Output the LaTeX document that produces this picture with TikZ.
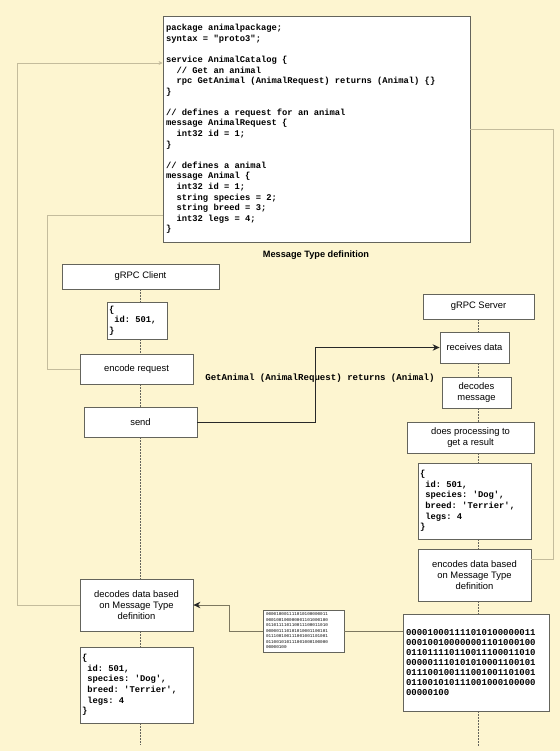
\documentclass[tikz,border=0pt]{standalone}
\usepackage{fontspec}
\setmainfont{Liberation Sans}
\setmonofont{Liberation Mono}
\usepackage{tikz}
\usetikzlibrary{arrows.meta}

\definecolor{paper}{RGB}{253,245,208}
\definecolor{boxline}{RGB}{100,100,92}
\definecolor{linktan}{RGB}{196,188,156}
\definecolor{wireolive}{RGB}{125,120,95}
\definecolor{arrowdark}{RGB}{40,40,40}

\begin{document}
\begin{tikzpicture}[x=1bp,y=-1bp]
        \tikzset{msgbox/.style = {draw=boxline, fill=white, line width=0.8bp, inner sep=2bp, align=center, font=\fontsize{9.4bp}{11bp}\selectfont}}
        \tikzset{codebox/.style = {msgbox, align=left, font=\fontsize{8.8bp}{10.58bp}\selectfont\ttfamily\bfseries,
                                   execute at begin node={\spaceskip=0pt\relax\xspaceskip=0pt\relax}}}
        \tikzset{bitbox/.style = {msgbox, align=left, inner sep=3bp, font=\fontsize{9bp}{10bp}\selectfont\ttfamily\bfseries}}
        \tikzset{lifeline/.style = {draw=boxline, line width=0.7bp, dash pattern=on 1.5bp off 1.5bp}}
        \tikzset{defline/.style = {draw=linktan, line width=0.8bp, > = {Stealth[length=4bp,width=4bp]}}}
        \tikzset{wireline/.style = {draw=wireolive, line width=0.9bp}}
        \tikzset{edge/.style = {->, > = {Stealth[length=7bp,width=6.5bp,color=arrowdark]}}}

        \useasboundingbox (0,0) rectangle (560,751);
        \fill[paper] (0,0) rectangle (560,751);

        % message definition
        \node[codebox, text width=301bp, minimum height=226bp, inner sep=3bp] (proto) at (316.5,129)
            {package animalpackage;\\ syntax = "proto3";\\ ~\\
             service AnimalCatalog \{\\ ~~// Get an animal\\ ~~rpc GetAnimal (AnimalRequest) returns (Animal) \{\}\\ \}\\ ~\\
             // defines a request for an animal\\ message AnimalRequest \{\\ ~~int32 id = 1;\\ \}\\ ~\\
             // defines a animal\\ message Animal \{\\ ~~int32 id = 1;\\ ~~string species = 2;\\
             ~~string breed = 3;\\ ~~int32 legs = 4;\\ \}};
        \node[font=\fontsize{9.2bp}{11bp}\selectfont\bfseries] (mtd) at (316,255) {Message Type definition};

        % client
        \node[msgbox, minimum width=157bp, minimum height=25bp] (client) at (140.5,276.5) {gRPC Client};
        \node[codebox, text width=56bp, minimum height=37bp] (request) at (137,320.5) {\{\\ ~id: 501,\\ \}};
        \node[msgbox, minimum width=113bp, minimum height=30bp] (encode) at (136.5,369) {encode request};
        \node[msgbox, minimum width=113bp, minimum height=30bp] (send) at (140.5,422) {send};
        \node[msgbox, minimum width=113bp, minimum height=52bp] (decode) at (136.5,605) {decodes data based\\ on Message Type\\ definition};
        \node[codebox, text width=109bp, minimum height=76bp] (reply) at (136.5,685)
            {\{\\ ~id: 501,\\ ~species: 'Dog',\\ ~breed: 'Terrier',\\ ~legs: 4\\ \}};

        % server
        \node[msgbox, minimum width=111bp, minimum height=25bp] (server) at (478.5,306.5) {gRPC Server};
        \node[msgbox, minimum width=69bp, minimum height=31bp] (receive) at (474.5,347.5) {receives data};
        \node[msgbox, minimum width=69bp, minimum height=31bp] (decmsg) at (476.5,392.5) {decodes\\ message};
        \node[msgbox, minimum width=127bp, minimum height=31bp] (process) at (470.5,437.5) {does processing to\\ get a result};
        \node[codebox, text width=109bp, minimum height=76bp] (result) at (474.5,501)
            {\{\\ ~id: 501,\\ ~species: 'Dog',\\ ~breed: 'Terrier',\\ ~legs: 4\\ \}};
        \node[msgbox, minimum width=113bp, minimum height=52bp] (encodeall) at (474.5,575) {encodes data based\\ on Message Type\\ definition};
        \node[bitbox, text width=140bp, minimum height=97bp] (binary) at (476,662.5)
            {000010001111010100000011\\ 000100100000001101000100\\ 011011110110011100011010\\
             000001110101010001100101\\ 011100100111001001101001\\ 011001010111001000100000\\ 00000100};
        \node[bitbox, text width=75bp, minimum height=42bp, font=\fontsize{4.3bp}{5.5bp}\selectfont\ttfamily] (packet) at (303.5,631)
            {000010001111010100000011\\ 000100100000001101000100\\ 011011110110011100011010\\
             000001110101010001100101\\ 011100100111001001101001\\ 011001010111001000100000\\ 00000100};

        \node[font=\fontsize{9.1bp}{11bp}\selectfont\ttfamily\bfseries] (call) at (320,378) {GetAnimal (AnimalRequest) returns (Animal)};

        % lifelines
        \coordinate (clientend) at (140.5,745);
        \coordinate (serverend) at (478.5,747);
        \foreach \a/\b in {client.south/request.north, request.south/encode.north, encode.south/send.north,
                           send.south/decode.north, decode.south/reply.north, reply.south/clientend}
            \draw[lifeline] (\a -| client) -- (\b -| client);
        \foreach \a/\b in {server.south/receive.north, receive.south/decmsg.north, decmsg.south/process.north,
                           process.south/result.north, result.south/encodeall.north, encodeall.south/binary.north, binary.south/serverend}
            \draw[lifeline] (\a -| server) -- (\b -| server);

        % links to the definition
        \draw[defline, ->] (decode.west) -| (17,63) -- (proto.west |- 0,63);
        \draw[defline] (encode.west) -| (47,215) -- (proto.west |- 0,215);
        \draw[defline] (encodeall.east |- 0,559) -| (553,129) -- (proto.east |- 0,129);

        % calls
        \draw[wireline, edge, draw=arrowdark] (send.east) -| (315,347.5) -- (receive.west);
        \draw[wireline] (binary.west |- packet.east) -- (packet.east);
        \draw[wireline, edge] (packet.west) -| (229,605) -- (decode.east);

    \end{tikzpicture}
\end{document}
